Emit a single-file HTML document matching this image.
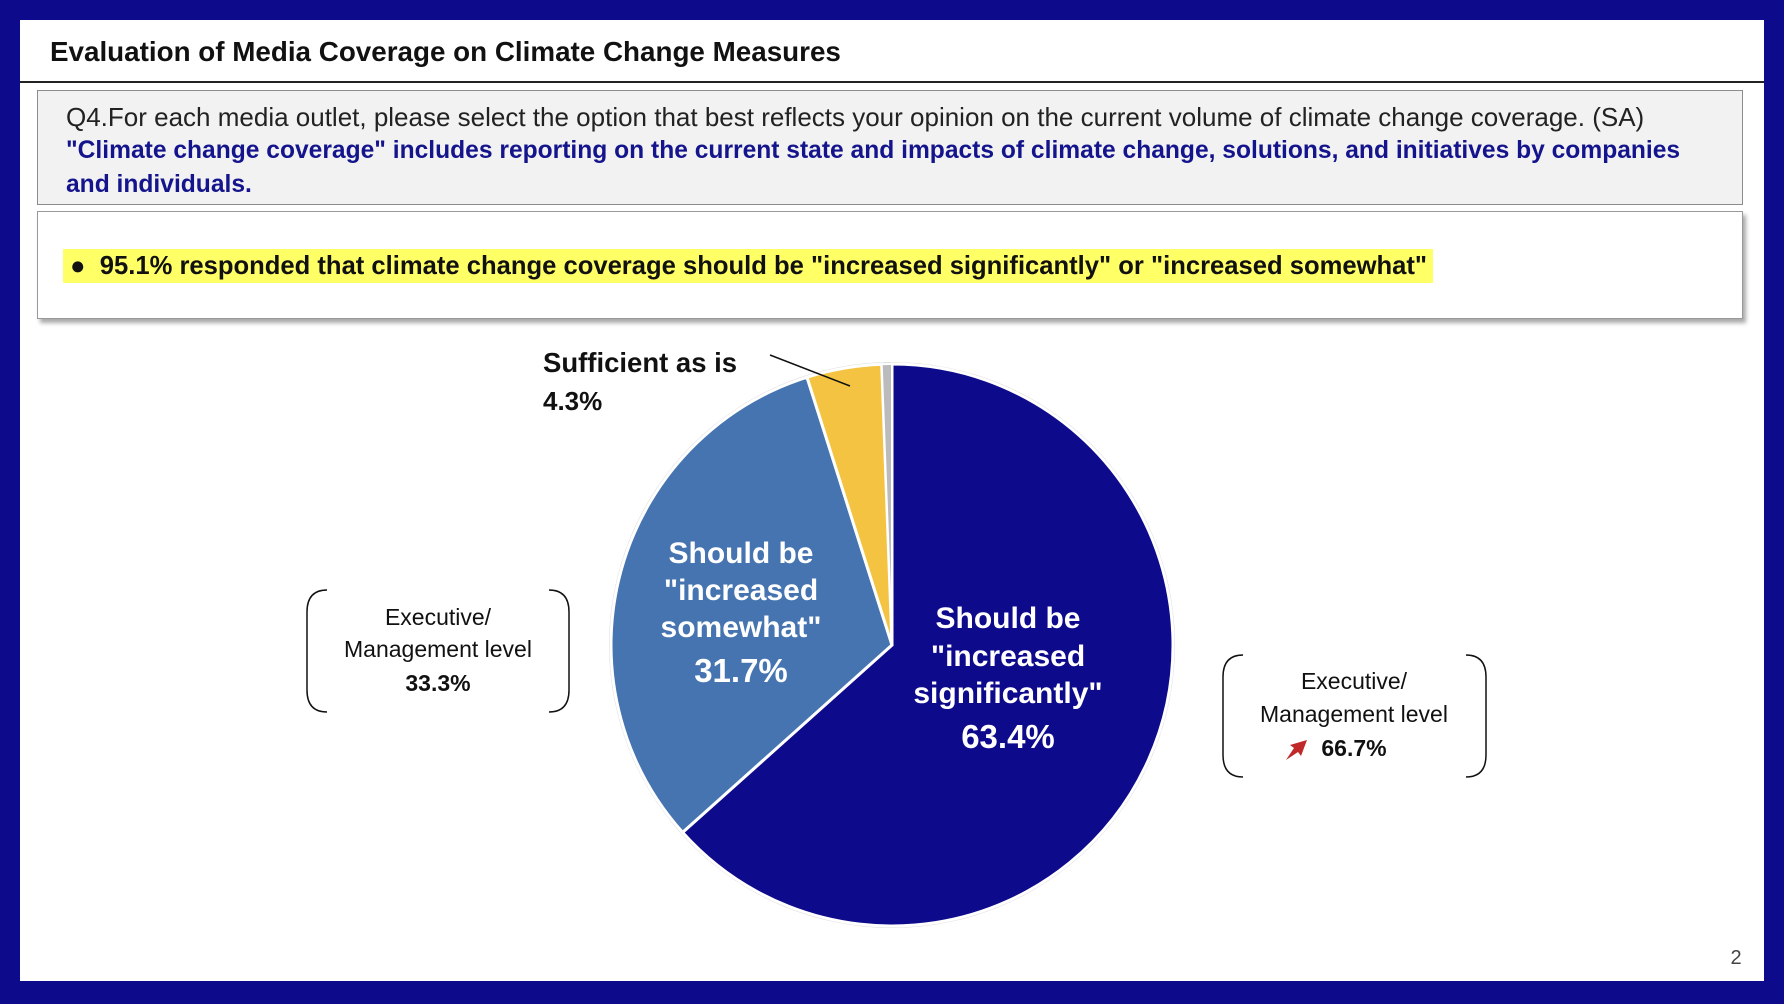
<!DOCTYPE html>
<html><head><meta charset="utf-8"><style>
html,body{margin:0;padding:0}
body{width:1784px;height:1004px;background:#0e0a8c;position:relative;overflow:hidden;font-family:"Liberation Sans",sans-serif}
.page{position:absolute;left:20px;top:20px;width:1744px;height:961px;background:#fff}
.abs{position:absolute;white-space:nowrap}
</style></head><body>
<div class="page"></div>
<div class="abs" style="left:50px;top:36px;font-size:27.8px;font-weight:bold;color:#111">Evaluation of Media Coverage on Climate Change Measures</div>
<div class="abs" style="left:20px;top:81px;width:1744px;height:2px;background:#222"></div>
<div class="abs" style="left:37px;top:90px;width:1704px;height:113px;background:#f2f2f2;border:1px solid #8c8c8c"></div>
<div class="abs" style="left:66px;top:100px;font-size:26px;color:#222;line-height:34px">Q4.For each media outlet, please select the option that best reflects your opinion on the current volume of climate change coverage. (SA)</div>
<div class="abs" style="left:66px;top:134px;font-size:24.6px;color:#14148c;font-weight:bold;line-height:34px">"Climate change coverage" includes reporting on the current state and impacts of climate change, solutions, and initiatives by companies<br>and individuals.</div>
<div class="abs" style="left:37px;top:211px;width:1704px;height:106px;background:#fff;border:1px solid #999;box-shadow:3px 4px 4px #aaa"></div>
<div class="abs" style="left:63px;top:249px;height:34px;line-height:34px;padding:0 6px 0 0;background:#ffff66;font-size:25.6px;font-weight:bold;color:#111">&nbsp;●&nbsp;&nbsp;95.1% responded that climate change coverage should be "increased significantly" or "increased somewhat"</div>
<svg class="abs" style="left:0;top:0" width="1784" height="1004">
<circle cx="892" cy="645" r="283" fill="#ddd"/>
<path d="M892 645 L892 364 A281 281 0 1 1 682.6 832.4 Z" fill="#0e0a8c" stroke="#fff" stroke-width="3"/>
<path d="M892 645 L682.6 832.4 A281 281 0 0 1 807 377.2 Z" fill="#4574b0" stroke="#fff" stroke-width="3"/>
<path d="M892 645 L807 377.2 A281 281 0 0 1 881.7 364.2 Z" fill="#f5c342" stroke="#fff" stroke-width="3"/>
<path d="M892 645 L881.7 364.2 A281 281 0 0 1 892 364 Z" fill="#bbb" stroke="#fff" stroke-width="2"/>
<line x1="770" y1="355" x2="850" y2="386" stroke="#111" stroke-width="1.5"/>
<path d="M327 590 Q307 590 307 612 L307 690 Q307 712 327 712" fill="none" stroke="#111" stroke-width="1.5"/>
<path d="M549 590 Q569 590 569 612 L569 690 Q569 712 549 712" fill="none" stroke="#111" stroke-width="1.5"/>
<path d="M1243 655 Q1223 655 1223 677 L1223 755 Q1223 777 1243 777" fill="none" stroke="#111" stroke-width="1.5"/>
<path d="M1466 655 Q1486 655 1486 677 L1486 755 Q1486 777 1466 777" fill="none" stroke="#111" stroke-width="1.5"/>
<path d="M1286 760 L1294 748 L1290 745 L1307 740 L1301 756 L1298 752 Z" fill="#c0282a"/>
<g font-family="Liberation Sans,sans-serif" font-weight="bold" fill="#fff" text-anchor="middle" font-size="30">
<text x="1008" y="628">Should be</text><text x="1008" y="666">"increased</text><text x="1008" y="703">significantly"</text><text x="1008" y="748" font-size="33">63.4%</text>
<text x="741" y="563">Should be</text><text x="741" y="600">"increased</text><text x="741" y="637">somewhat"</text><text x="741" y="682" font-size="33">31.7%</text>
</g>
<g font-family="Liberation Sans,sans-serif" fill="#111" font-size="23" text-anchor="middle">
<text x="438" y="625">Executive/</text><text x="438" y="657">Management level</text><text x="438" y="691" font-weight="bold">33.3%</text>
<text x="1354" y="689">Executive/</text><text x="1354" y="722">Management level</text><text x="1354" y="756" font-weight="bold">66.7%</text>
</g>
<g font-family="Liberation Sans,sans-serif" fill="#111" font-weight="bold" font-size="27.5">
<text x="543" y="372">Sufficient as is</text><text x="543" y="410" font-size="26">4.3%</text>
</g>
<text x="1736" y="964" font-family="Liberation Sans,sans-serif" font-size="20" fill="#444" text-anchor="middle">2</text>
</svg>
</body></html>
